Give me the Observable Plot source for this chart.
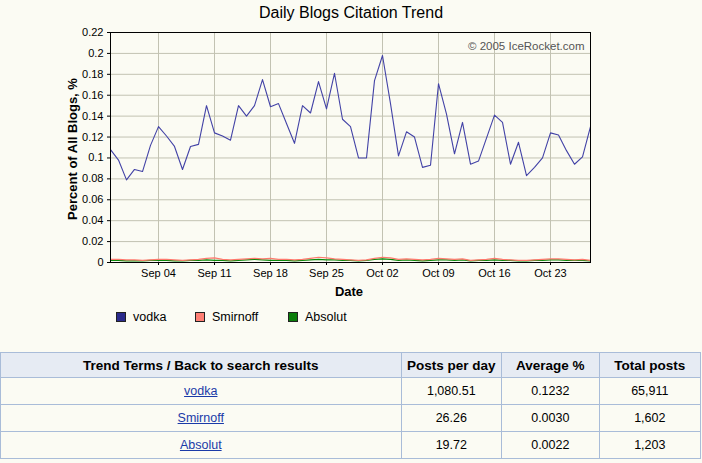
<!DOCTYPE html>
<html>
<head>
<meta charset="utf-8">
<script src="https://cdn.jsdelivr.net/npm/d3@7"></script>
<script src="https://cdn.jsdelivr.net/npm/@observablehq/plot@0.6"></script>
<style>
  html, body { margin: 0; padding: 0; background: #fbfbf3; }
  body { width: 702px; height: 463px; position: relative; overflow: hidden; font-family: "Liberation Sans", Arial, sans-serif; }
  #title { position: absolute; left: 0; top: 4px; width: 702px; text-align: center; font-size: 16px; color: #000; }
  #chart { position: absolute; left: 0; top: 0; }
  #ylabel { position: absolute; left: 72px; top: 149px; transform: translate(-50%, -50%) rotate(-90deg); font-size: 13px; font-weight: bold; white-space: nowrap; }
  #xlabel { position: absolute; left: 0; width: 698px; top: 284px; text-align: center; font-size: 13px; font-weight: bold; }
  #legend { position: absolute; top: 310px; left: 0; font-size: 12.5px; }
  .lg { position: absolute; white-space: nowrap; display: flex; align-items: center; }
  .sw { width: 8px; height: 8px; border: 1px solid #222; margin-right: 7px; display: inline-block; }
  table { position: absolute; left: 0; top: 352px; width: 701px; border-collapse: collapse; font-size: 12.5px; }
  th, td { border: 1px solid #a9bcd8; text-align: center; padding: 0; }
  th { height: 24px; background: #e6ebf3; font-weight: bold; font-size: 13.5px; }
  td { height: 26px; }
  a { color: #1a3aa8; text-decoration: underline; }
</style>
</head>
<body>
<div id="chart"></div>
<div id="title">Daily Blogs Citation Trend</div>
<div id="ylabel">Percent of All Blogs, %</div>
<div id="xlabel">Date</div>
<div id="legend"></div>
<table id="tbl"></table>
<script>
const startDate = "2005-08-29";
const endDate = "2005-10-28";
const seriesNames = ["vodka", "Smirnoff", "Absolut"];
const seriesColors = ["#4242a6", "#ff7a6e", "#0a8a0a"];
const swatchColors = ["#2b2b8c", "#ff7f74", "#0a7d0a"];
const xTickLabels = ["2005-09-04","2005-09-11","2005-09-18","2005-09-25","2005-10-02","2005-10-09","2005-10-16","2005-10-23"];
const yTicks = [0,0.02,0.04,0.06,0.08,0.1,0.12,0.14,0.16,0.18,0.2,0.22];

const vodka = [0.108,0.098,0.079,0.089,0.087,0.112,0.130,0.121,0.111,0.089,0.111,0.113,0.150,0.124,0.121,0.117,
  0.150,0.140,0.150,0.175,0.149,0.152,0.133,0.114,0.150,0.143,0.173,0.147,0.181,0.137,0.130,0.100,0.100,0.174,
  0.198,0.152,0.102,0.125,0.120,0.091,0.093,0.171,0.142,0.104,0.134,0.094,0.097,0.119,0.141,0.134,0.094,0.115,
  0.083,0.091,0.100,0.124,0.122,0.107,0.094,0.101,0.130];
const smirnoff = [0.003,0.003,0.0025,0.0025,0.002,0.0025,0.003,0.003,0.0025,0.002,0.0025,0.003,0.004,0.0045,
  0.003,0.0025,0.003,0.0035,0.004,0.0035,0.004,0.003,0.003,0.0025,0.003,0.004,0.005,0.0045,0.0035,0.003,0.0025,
  0.002,0.0025,0.004,0.005,0.0045,0.003,0.0035,0.003,0.0025,0.003,0.004,0.0035,0.003,0.0035,0.002,0.0025,0.003,
  0.004,0.003,0.0025,0.002,0.002,0.0025,0.003,0.0035,0.0035,0.003,0.0025,0.003,0.002];
const absolut = [0.002,0.002,0.0015,0.0015,0.0015,0.002,0.002,0.002,0.0015,0.0015,0.002,0.002,0.0025,0.002,
  0.002,0.0015,0.002,0.0025,0.003,0.0025,0.002,0.002,0.002,0.0015,0.002,0.0025,0.003,0.0025,0.0025,0.002,0.002,
  0.0015,0.002,0.003,0.0035,0.003,0.002,0.0025,0.002,0.0015,0.002,0.0025,0.0025,0.002,0.0025,0.0015,0.002,0.002,
  0.0025,0.002,0.002,0.0015,0.0015,0.002,0.002,0.0025,0.0025,0.002,0.002,0.002,0.0015];

const tableHeaders = ["Trend Terms / Back to search results", "Posts per day", "Average %", "Total posts"];
const postsPerDay = ["1,080.51", "26.26", "19.72"];
const averagePct = ["0.1232", "0.0030", "0.0022"];
const totalPosts = ["65,911", "1,602", "1,203"];

const parse = d3.utcParse("%Y-%m-%d");
const dates = d3.utcDay.range(parse(startDate), d3.utcDay.offset(parse(endDate), 1));
const allSeries = [vodka, smirnoff, absolut];
const rows = [];
allSeries.forEach((vals, si) => vals.forEach((v, i) => rows.push({date: dates[i], value: v, series: seriesNames[si]})));

const chart = Plot.plot({
  width: 702, height: 300,
  marginLeft: 110, marginRight: 112, marginTop: 32, marginBottom: 38,
  style: { background: "transparent", fontFamily: "Liberation Sans, Arial, sans-serif", fontSize: "11px", color: "#000" },
  x: { type: "utc", domain: [parse(startDate), parse(endDate)], ticks: xTickLabels.map(parse), tickFormat: d3.utcFormat("%b %d"), tickSize: 3, tickPadding: 4, label: null },
  y: { domain: [0, 0.22], ticks: yTicks, tickFormat: d => String(+d.toFixed(2)), tickSize: 3, tickPadding: 4, label: null },
  color: { domain: seriesNames, range: seriesColors },
  marks: [
    Plot.gridX(xTickLabels.map(parse), { stroke: "#c2c2b2", strokeOpacity: 1 }),
    Plot.gridY(yTicks, { stroke: "#c2c2b2", strokeOpacity: 1 }),
    Plot.text(["© 2005 IceRocket.com"], { frameAnchor: "top-right", dx: -6, dy: 9, fill: "#555", fontSize: 11.5 }),
    Plot.line(rows.filter(d => d.series === "Absolut"), { x: "date", y: "value", stroke: seriesColors[2], strokeWidth: 1.2 }),
    Plot.line(rows.filter(d => d.series === "Smirnoff"), { x: "date", y: "value", stroke: seriesColors[1], strokeWidth: 1.2 }),
    Plot.line(rows.filter(d => d.series === "vodka"), { x: "date", y: "value", stroke: seriesColors[0], strokeWidth: 1.1 }),
    Plot.frame({ stroke: "#000" })
  ]
});
document.getElementById("chart").appendChild(chart);

const legend = document.getElementById("legend");
const legendX = [116, 195, 288];
seriesNames.forEach((n, i) => {
  const el = document.createElement("div");
  el.className = "lg";
  el.style.left = legendX[i] + "px";
  el.innerHTML = `<span class="sw" style="background:${swatchColors[i]}"></span><span>${n}</span>`;
  legend.appendChild(el);
});

const tbl = document.getElementById("tbl");
const colW = [403, 100, 97, 101];
let html = "<tr>" + tableHeaders.map((h, i) => `<th style="width:${colW[i]}px">${h}</th>`).join("") + "</tr>";
seriesNames.forEach((n, i) => {
  html += `<tr><td><a href="#">${n}</a></td><td>${postsPerDay[i]}</td><td>${averagePct[i]}</td><td>${totalPosts[i]}</td></tr>`;
});
tbl.innerHTML = html;
</script>
</body>
</html>
